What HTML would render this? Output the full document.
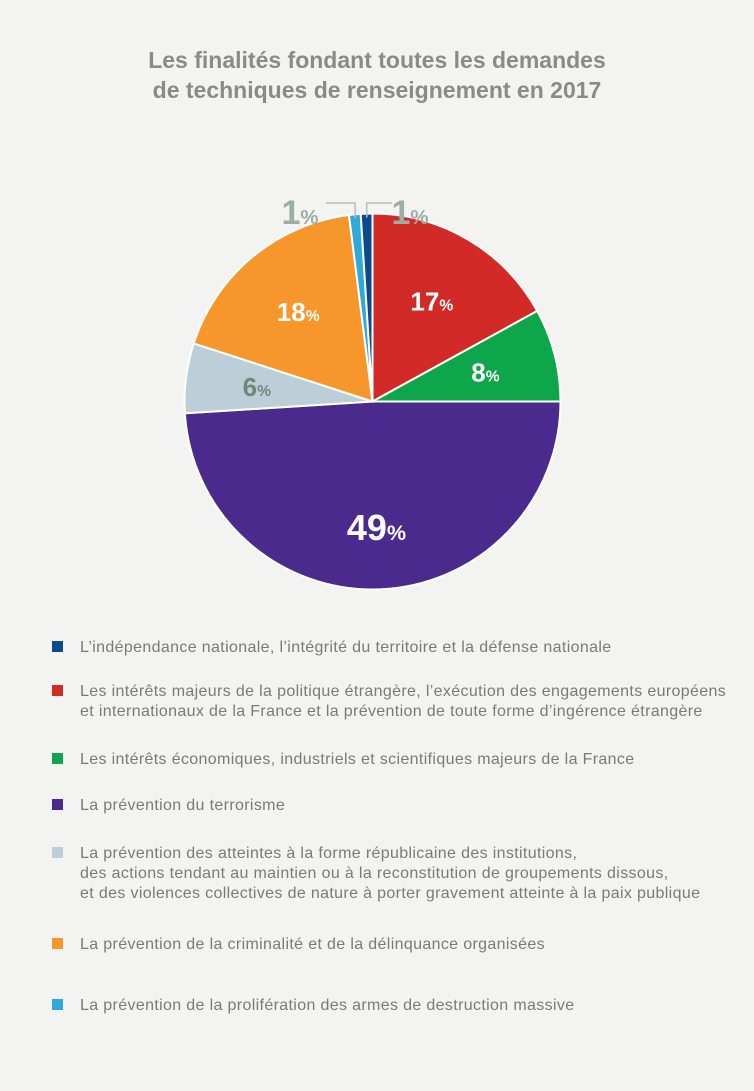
<!DOCTYPE html>
<html><head><meta charset="utf-8"><style>
body{margin:0;background:#f3f3f1;font-family:"Liberation Sans",sans-serif;}
#c{position:relative;width:754px;height:1091px;overflow:hidden}
.t{position:absolute;left:0;width:754px;text-align:center;font-weight:bold;color:#8a8a8a;font-size:23px;line-height:30px}
.lg{position:absolute;left:52px;font-size:16px;letter-spacing:0.35px;color:#7a7a7a;line-height:20px}
.lg span.sq{position:absolute;left:0;top:3px;width:11px;height:11px}
.lg span.tx{position:absolute;left:28px;white-space:nowrap}
</style></head><body><div id="c">
<div class="t" style="top:45px">Les finalités fondant toutes les demandes<br>de techniques de renseignement en 2017</div>
<svg id="pie" width="754" height="620" style="position:absolute;left:0;top:0"></svg>
<div id="legend"></div>
</div>
<script>
const categories=["L’indépendance nationale, l’intégrité du territoire et la défense nationale","Les intérêts majeurs de la politique étrangère, l’exécution des engagements européens<br>et internationaux de la France et la prévention de toute forme d’ingérence étrangère","Les intérêts économiques, industriels et scientifiques majeurs de la France","La prévention du terrorisme","La prévention des atteintes à la forme républicaine des institutions,<br>des actions tendant au maintien ou à la reconstitution de groupements dissous,<br>et des violences collectives de nature à porter gravement atteinte à la paix publique","La prévention de la criminalité et de la délinquance organisées","La prévention de la prolifération des armes de destruction massive"];
const values=[1,17,8,49,6,18,1];
const colors=["#0b4a8c","#d22a27","#0ea64a","#4a2a8c","#bccfd8","#f7962b","#2fa8dc"];
const legendTops=[638,682,750,796,844,935,996];
const svg=document.getElementById('pie');const NS="http://www.w3.org/2000/svg";
const cx=372.5,cy=401.5,r=188;
const total=values.reduce((a,b)=>a+b,0);
let start=0;
const order=[1,2,3,4,5,6,0];
function pt(a,rr){return [cx+rr*Math.sin(a),cy-rr*Math.cos(a)];}
order.forEach(i=>{
 const a0=start/total*2*Math.PI,a1=(start+values[i])/total*2*Math.PI;start+=values[i];
 const p0=pt(a0,r),p1=pt(a1,r);const large=(a1-a0)>Math.PI?1:0;
 const p=document.createElementNS(NS,'path');
 p.setAttribute('d',`M${cx},${cy}L${p0[0]},${p0[1]}A${r},${r} 0 ${large} 1 ${p1[0]},${p1[1]}Z`);
 p.setAttribute('fill',colors[i]);p.setAttribute('stroke','#fff');p.setAttribute('stroke-width','2');
 
 
 svg.appendChild(p);
 const mid=(a0+a1)/2;
 let lr=values[i]>30?0.67:0.62, fs=values[i]>30?36:26, col=(i==4)?'#6d8a79':'#fff';
 let lp=pt(mid,r*lr);
 if(values[i]<3){
   lp=[i==0?410:300,212];col='#9aaea5';fs=34;
   const e=pt(mid,r-4);const ln=document.createElementNS(NS,'polyline');
   ln.setAttribute('points',i==0?`${e[0]},${e[1]} ${e[0]},203 392,203`:`${e[0]},${e[1]} ${e[0]},203 326,203`);
   ln.setAttribute('fill','none');ln.setAttribute('stroke','#bbb');ln.setAttribute('stroke-width','1.5');
   
   
   svg.appendChild(ln);
 }
 const t=document.createElementNS(NS,'text');
 t.setAttribute('x',lp[0]);t.setAttribute('y',lp[1]+fs*0.35);t.setAttribute('text-anchor','middle');
 t.setAttribute('fill',col);t.setAttribute('font-weight','bold');t.setAttribute('font-size',fs);
 t.setAttribute('font-family','Liberation Sans, sans-serif');
 t.innerHTML=values[i]+'<tspan font-size="'+(fs*0.6)+'">%</tspan>';
 
 
 svg.appendChild(t);
});
const lg=document.getElementById('legend');
categories.forEach((c,i)=>{
 const d=document.createElement('div');d.className='lg';d.style.top=legendTops[i]+'px';
 d.innerHTML='<span class="sq" style="background:'+colors[i]+'"></span><span class="tx">'+c+'</span>';
 
 
 lg.appendChild(d);
});
</script></body></html>
